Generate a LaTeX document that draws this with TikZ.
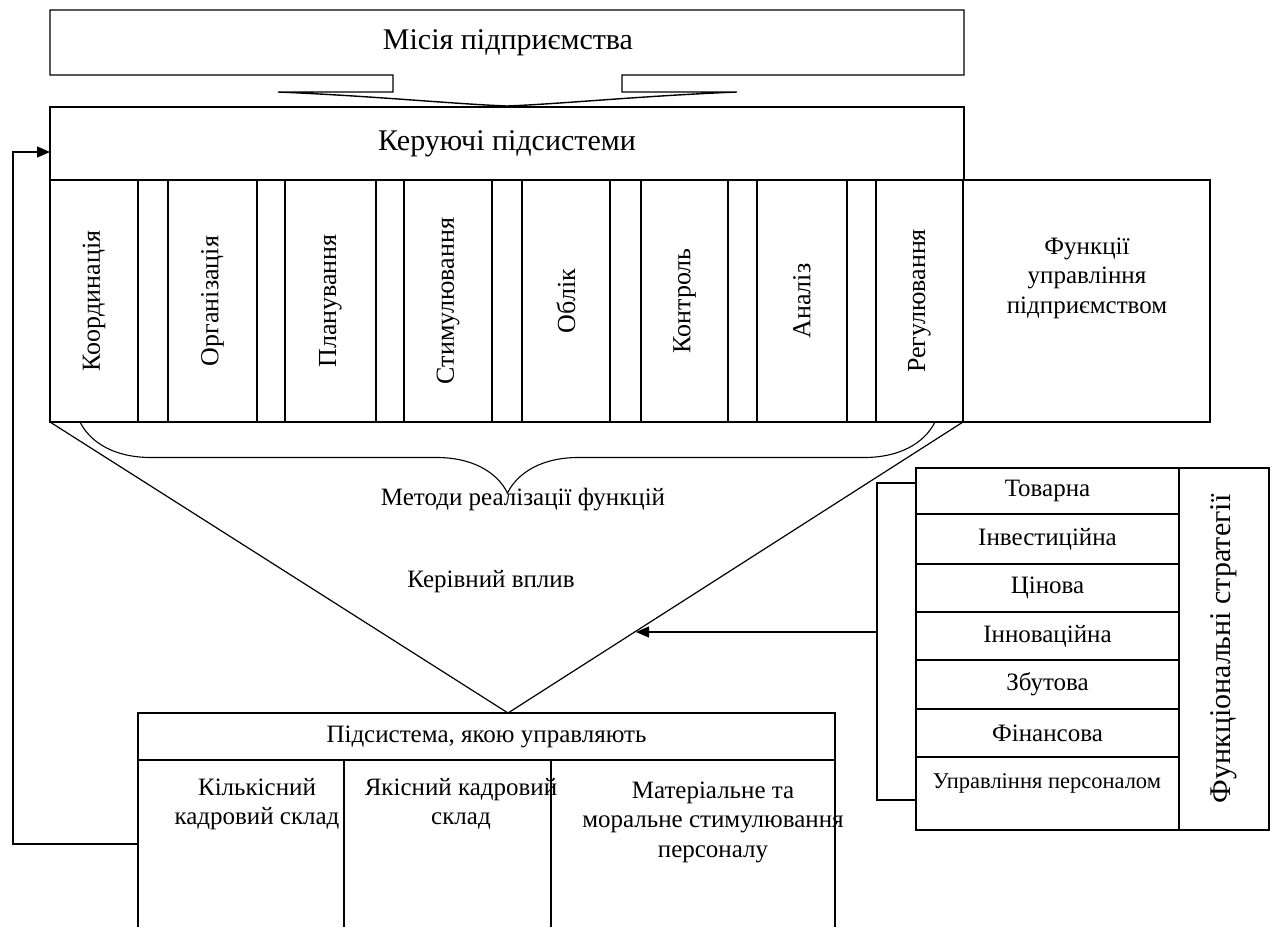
\documentclass[tikz,border=0pt]{standalone}
\usepackage{fontspec}
\setmainfont{Liberation Serif}
\usetikzlibrary{arrows.meta,decorations.pathreplacing}
\begin{document}
\begin{tikzpicture}[x=1pt,y=-1pt,
  ln/.style={line width=1.4pt},
  bx/.style={draw, line width=1.4pt, inner sep=0pt, outer sep=0pt},
  t30/.style={font=\fontsize{30}{34}\selectfont},
  t25/.style={font=\fontsize{25}{29.5}\selectfont},
  vt/.style={rotate=90, font=\fontsize{26}{30}\selectfont},
  tip/.style={-{Triangle[length=13pt,width=11pt]}}
]
\useasboundingbox (0,0) rectangle (1272,927);

% mission box with block arrow
\draw[ln, fill=white] (393,75) -- (50,75) -- (50,10) -- (964,10) -- (964,75) -- (622,75) -- (622,92) -- (737,92)
  .. controls (640,96) and (560,104) .. (507,106)
  .. controls (454,104) and (374,96) .. (278,92) -- (393,92) -- cycle;
\node[t30] (mis) at (508,43) {Місія підприємства};

% controlling subsystems
\node[bx, t30, minimum width=914, minimum height=73, anchor=north west] (ker) at (50,107) {Керуючі підсистеми};

% functions row
\node[bx, minimum width=913, minimum height=242, anchor=north west] (row) at (50,180) {};
\foreach \a/\b/\t/\n in {50/138/Координація/f1, 168/257/Організація/f2, 285/376/Планування/f3,
  404/492/Стимулювання/f4, 522/610/Облік/f5, 641/728/Контроль/f6, 757/847/Аналіз/f7, 876/963/Регулювання/f8}{
  \pgfmathsetmacro\w{\b-\a}
  \pgfmathsetmacro\c{(\a+\b)/2}
  \node[bx, vt, minimum width=242, minimum height=\w pt] (\n) at (\c,301) {\t};
}
\node[bx, minimum width=247, minimum height=242, anchor=north west] (fun) at (963,180) {};
\node[t25, align=center] (funt) at (1087,278) {Функції\\управління\\підприємством};

% brace and labels
\draw[line width=1.1pt, decorate, decoration={brace, amplitude=71pt}] (935,422) -- (80,422);
\node[t25] (meth) at (523,500) {Методи реалізації функцій};
\node[t25] (kv) at (491,582) {Керівний вплив};

% managed subsystem
\node[bx, t25, minimum width=697, minimum height=47, anchor=north west] (sub) at (138,713) {Підсистема, якою управляють};
\draw[ln] (sub.south west) -- (138,927);
\draw[ln] (sub.south east) -- (835,927);
\draw[ln] (344,760) -- (344,927);
\draw[ln] (551,760) -- (551,927);
\node[t25, align=center] (c1) at (257,804) {Кількісний\\кадровий склад};
\node[t25, align=center] (c2) at (461,804) {Якісний кадровий\\склад};
\node[t25, align=center] (c3) at (713,822) {Матеріальне та\\моральне стимулювання\\персоналу};

% triangle
\coordinate (apex) at (508,713);
\draw[line width=1.2pt] (row.south west) -- (apex) -- (row.south east);

% feedback
\coordinate (fbout) at (138,844);
\coordinate (fbin) at (50,152);
\draw[ln, tip] (fbout) -- (13,844) -- (13,152) -- (fbin);

% strategies table
\foreach \n/\y/\h/\t in {s1/468/46/Товарна, s2/514/50/Інвестиційна, s3/564/48/Цінова,
  s4/612/48/Інноваційна, s5/660/49/Збутова, s6/709/48/Фінансова}{
  \node[bx, t25, minimum width=263, minimum height=\h pt, anchor=north west] (\n) at (916,\y) {\t};
}
\node[bx, minimum width=263, minimum height=73, anchor=north west] (s7) at (916,757) {};
\node[font=\fontsize{22.5}{26}\selectfont] (s7t) at (1047,783) {Управління персоналом};
\node[bx, rotate=90, minimum width=362, minimum height=90, font=\fontsize{30}{34}\selectfont] (fs) at (1224,649) {Функціональні стратегії};

% bracket and arrow
\coordinate (bt) at (916,483);
\coordinate (bb) at (916,800);
\coordinate (bm) at (877,632);
\coordinate (tri) at (636,632);
\draw[ln] (bt) -- (877,483) -- (877,800) -- (bb);
\draw[ln, tip] (bm) -- (tri);
\end{tikzpicture}
\end{document}
